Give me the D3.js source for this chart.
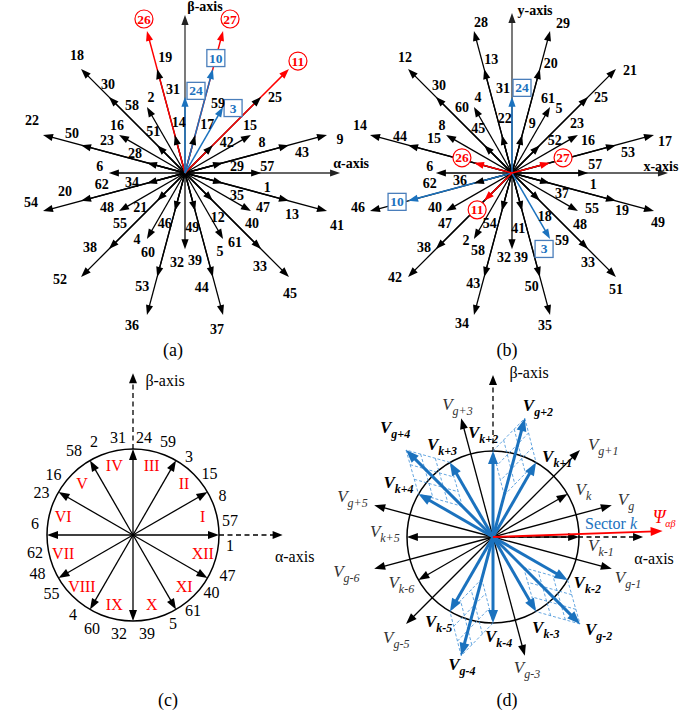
<!DOCTYPE html>
<html>
<head>
<meta charset="utf-8">
<script src="https://cdn.jsdelivr.net/npm/d3@7"></script>
<style>
  body { margin: 0; background: #fff; }
  svg { display: block; }
</style>
</head>
<body>
<div id="chart"></div>
<script>
// ---- data ----
// magnitude levels, normalised to the largest vector
const levels = { L1: 0.268, L2: 0.518, L3: 0.732, L4: 1 };

// (a) alpha-beta plane: [angle deg, label(s)]
const abL4 = [[15,'9'],[45,'11'],[75,'27'],[105,'26'],[135,'18'],[165,'22'],[195,'54'],[225,'52'],[255,'36'],[285,'37'],[315,'45'],[345,'41']];
const abL3 = [[15,'43'],[45,'25'],[75,'10'],[105,'19'],[135,'30'],[165,'50'],[195,'20'],[225,'38'],[255,'53'],[285,'44'],[315,'33'],[345,'13']];
const abL2 = [[0,'57','1'],[30,'15','8'],[60,'59','3'],[90,'31','24'],[120,'2','58'],[150,'16','23'],[180,'6','62'],[210,'48','55'],[240,'4','60'],[270,'32','39'],[300,'61','5'],[330,'47','40']];
const abL1 = [[15,'29'],[45,'42'],[75,'17'],[105,'14'],[135,'51'],[165,'28'],[195,'34'],[225,'21'],[255,'46'],[285,'49'],[315,'12'],[345,'35']];

// (b) x-y plane
const xyL4 = [[15,'17'],[45,'21'],[75,'29'],[105,'28'],[135,'12'],[165,'14'],[195,'46'],[225,'42'],[255,'34'],[285,'35'],[315,'51'],[345,'49']];
const xyL3 = [[15,'53'],[45,'25'],[75,'20'],[105,'13'],[135,'30'],[165,'44'],[195,'10'],[225,'38'],[255,'43'],[285,'50'],[315,'33'],[345,'19']];
const xyL2 = [[0,'57','1'],[30,'23','16'],[60,'61','5'],[90,'31','24'],[120,'4','60'],[150,'8','15'],[180,'6','62'],[210,'40','47'],[240,'2','58'],[270,'32','39'],[300,'3','59'],[330,'55','48']];
const xyL1 = [[15,'27'],[45,'52'],[75,'9'],[105,'22'],[135,'45'],[165,'26'],[195,'36'],[225,'11'],[255,'54'],[285,'41'],[315,'18'],[345,'37']];

const redStates = ['26','27','11'];
const blueStates = ['24','10','3'];

// (c) twelve selected vectors and sectors
const cVecs = [[0,'57','1'],[30,'15','8'],[60,'59','3'],[90,'31','24'],[120,'2','58'],[150,'16','23'],[180,'6','62'],[210,'48','55'],[240,'4','60'],[270,'32','39'],[300,'5','61'],[330,'40','47']];
const sectors = ['I','II','III','IV','V','VI','VII','VIII','IX','X','XI','XII'];

// (d) generic vectors
const dG = [[15,'g'],[45,'g+1'],[75,'g+2'],[105,'g+3'],[135,'g+4'],[165,'g+5'],[195,'g-6'],[225,'g-5'],[255,'g-4'],[285,'g-3'],[315,'g-2'],[345,'g-1']];
const dK = [[0,'k-1'],[30,'k'],[60,'k+1'],[90,'k+2'],[120,'k+3'],[150,'k+4'],[180,'k+5'],[210,'k-6'],[240,'k-5'],[270,'k-4'],[300,'k-3'],[330,'k-2']];
const dGMag = 1, dKMag = 0.7;
const dBlue = ['k+1','k+2','k+3','k+4','g+2','g+4','k-2','k-3','k-4','k-5','g-2','g-4'];
const dGroups = [['k+2','g+2','k+1'],['k+3','g+4','k+4'],['k-2','g-2','k-3'],['k-4','g-4','k-5']];
const psiAngle = 2, psiMag = 1.38;

// ---- layout (label nudges in px from the vector tip) ----
const nudgeA = {
  '9':[13,5],'11':[9,-8],'27':[7,-12],'26':[-3,-12],'18':[-4,-14],'22':[-11,-14],'54':[-12,-9],'52':[-21,3],'36':[-15,11],'37':[-6,15],'45':[1,17],'41':[10,14],
  '43':[13,7],'25':[14,1],'10':[3,-11],'19':[8,-12],'30':[-1,-12],'50':[-9,-12],'20':[-16,-9],'38':[-19,-2],'53':[-15,10],'44':[-11,11],'33':[-1,17],'13':[3,14],
  '29':[14,4],'42':[14,-3],'17':[12,-10],'14':[4,-12],'51':[-4,-14],'28':[-12,-9],'34':[-15,-1],'21':[-17,7],'46':[-10,12],'49':[-3,16],'12':[5,17],'35':[14,12],
  '57':[6,-7],'1':[6,14],'15':[-1,-9],'8':[11,8],'59':[-5,-4],'3':[10,1],'31':[-12,-7],'24':[11,-6],'2':[4,-10],'58':[-15,-2],'16':[-2,-9],'23':[-12,6],
  '6':[-9,-7],'62':[-7,11],'48':[-12,-4],'55':[1,12],'4':[-10,1],'60':[1,14],'32':[-8,13],'39':[10,11],'61':[12,4],'5':[-3,13],'47':[12,-4],'40':[1,12]
};
const nudgeB = {
  '17':[11,7],'21':[14,1],'29':[13,-8],'28':[7,-9],'12':[-3,-12],'14':[-10,-9],'46':[-12,-4],'42':[-13,1],'34':[-12,9],'35':[-5,11],'51':[0,13],'49':[4,11],
  '53':[12,7],'25':[13,1],'20':[11,-6],'13':[7,-10],'30':[3,-11],'44':[-8,-9],'10':[-11,1],'38':[-12,-2],'43':[-11,7],'50':[-8,10],'33':[0,13],'19':[6,10],
  '27':[13,-5],'52':[15,-5],'9':[10,-11],'22':[3,-16],'45':[-6,-17],'26':[-12,-5],'36':[-14,-3],'11':[-7,9],'54':[-12,12],'41':[-4,17],'18':[5,16],'37':[12,10],
  '57':[7,-9],'1':[5,11],'23':[-1,-11],'16':[10,6],'61':[-2,-9],'5':[9,1],'31':[-9,-8],'24':[10,-9],'4':[4,-10],'60':[-12,0],'8':[-4,-9],'15':[-12,4],
  '6':[-6,-7],'62':[-6,10],'40':[-11,-4],'47':[-1,12],'2':[-8,2],'58':[4,12],'32':[-8,8],'39':[9,8],'3':[-6,10],'59':[12,2],'55':[14,-3],'48':[2,13]
};
const nudgeC = {
  '57':[11,-15],'1':[11,10],'15':[2,-19],'8':[15,3],'59':[-8,-19],'3':[13,-4],'31':[-15,-12],'24':[11,-12],'2':[4,-19],'58':[-16,-10],'16':[-5,-18],'23':[-17,0],
  '6':[-12,-12],'62':[-12,17],'48':[-21,-5],'55':[-7,15],'4':[-17,5],'60':[2,19],'32':[-14,12],'39':[14,12],'5':[-3,14],'61':[17,1],'40':[4,14],'47':[20,-3]
};
const nudgeD = {
  'g':[6,0],'g+1':[8,0],'g+2':[-2,-7],'g+3':[-19,-8],'g+4':[-26,-17],'g+5':[-37,-3],'g-6':[-41,8],'g-5':[-23,19],'g-4':[-13,14],'g-3':[-11,17],'g-2':[5,11],'g-1':[3,14],
  'k-1':[9,14],'k':[8,1],'k+1':[6,0],'k+2':[-25,-13],'k+3':[-23,-12],'k+4':[-35,-6],'k+5':[-37,0],'k-6':[-30,8],'k-5':[-25,15],'k-4':[-8,19],'k-3':[-4,21],'k-2':[6,8]
};

const SERIF = '"Liberation Serif","Times New Roman",serif';
const RED = '#ff0000', BLUE = '#1b72be', BOX = '#4a7ebb';
const DEG = Math.PI / 180;

const svg = d3.select('#chart').append('svg')
  .attr('width', 699).attr('height', 713)
  .style('font-family', SERIF);

function polar(cx, cy, r, ang) {
  return [cx + r * Math.cos(ang * DEG), cy - r * Math.sin(ang * DEG)];
}

function arrowHead(g, tip, ang, len, half, color) {
  const ux = Math.cos(ang * DEG), uy = -Math.sin(ang * DEG);
  const bx = tip[0] - ux * len, by = tip[1] - uy * len;
  const px = -uy * half, py = ux * half;
  g.append('path')
    .attr('d', `M${tip[0]},${tip[1]}L${bx + px},${by + py}L${bx - px},${by - py}Z`)
    .attr('fill', color);
}

function ray(g, cx, cy, r0, r1, ang, color, width, dash) {
  const a = polar(cx, cy, r0, ang), b = polar(cx, cy, r1, ang);
  const l = g.append('line')
    .attr('x1', a[0]).attr('y1', a[1]).attr('x2', b[0]).attr('y2', b[1])
    .attr('stroke', color).attr('stroke-width', width);
  if (dash) l.attr('stroke-dasharray', dash);
}

// ---- panels (a) and (b) ----
function drawStar(cx, cy, sets, nudge, axes) {
  const g = svg.append('g');
  const r = d3.scaleLinear().domain([0, 1]).range([0, 147]);

  const vecs = [];
  sets.forEach(([lev, rows]) => rows.forEach(row => {
    const labels = row.slice(1);
    const color = labels.some(l => redStates.includes(l)) ? RED
      : labels.some(l => blueStates.includes(l)) ? BLUE : '#000';
    vecs.push({ angle: row[0], mag: levels[lev], labels, color });
  }));

  axes.forEach(ax => ray(g, cx, cy, 0, r(ax.len) - 5, ax.angle, '#333', 1.3));

  const order = vecs.slice().sort((a, b) =>
    ((a.color !== '#000') - (b.color !== '#000')) || (b.mag - a.mag));
  order.forEach(v => ray(g, cx, cy, 0, r(v.mag) - 4, v.angle, v.color, v.color === '#000' ? 1.3 : 1.5));

  axes.forEach(ax => {
    const tip = polar(cx, cy, r(ax.len), ax.angle);
    arrowHead(g, tip, ax.angle, 10, 3.6, '#222');
    g.append('text')
      .attr('x', tip[0] + ax.nudge[0]).attr('y', tip[1] + ax.nudge[1])
      .attr('text-anchor', 'middle').attr('dominant-baseline', 'central')
      .attr('font-size', 14).attr('font-weight', 'bold')
      .text(ax.text);
  });

  // marked states: circles (red) and boxes (blue)
  vecs.forEach(v => {
    const tip = polar(cx, cy, r(v.mag), v.angle);
    v.labels.forEach(l => {
      const [dx, dy] = nudge[l];
      const x = tip[0] + dx, y = tip[1] + dy;
      if (redStates.includes(l)) {
        g.append('circle').attr('cx', x).attr('cy', y).attr('r', 9)
          .attr('fill', '#fff').attr('stroke', RED).attr('stroke-width', 1.2);
      } else if (blueStates.includes(l)) {
        g.append('rect').attr('x', x - 9).attr('y', y - 8.5).attr('width', 18).attr('height', 17)
          .attr('fill', '#fff').attr('stroke', BOX).attr('stroke-width', 1.3);
      }
    });
  });

  vecs.forEach(v => {
    const tip = polar(cx, cy, r(v.mag), v.angle);
    arrowHead(g, tip, v.angle, 10, 3.6, v.color);
  });

  vecs.forEach(v => {
    const tip = polar(cx, cy, r(v.mag), v.angle);
    v.labels.forEach(l => {
      const [dx, dy] = nudge[l];
      const col = redStates.includes(l) ? RED : blueStates.includes(l) ? BLUE : '#000';
      g.append('text')
        .attr('x', tip[0] + dx).attr('y', tip[1] + dy)
        .attr('text-anchor', 'middle').attr('dominant-baseline', 'central')
        .attr('font-size', redStates.includes(l) || blueStates.includes(l) ? 13.5 : 14)
        .attr('font-weight', 'bold').attr('fill', col)
        .text(l);
    });
  });
}

drawStar(185, 173, [['L4', abL4], ['L3', abL3], ['L2', abL2], ['L1', abL1]], nudgeA, [
  { angle: 0, len: 1.055, text: 'α-axis', nudge: [11, -10] },
  { angle: 90, len: 1.075, text: 'β-axis', nudge: [20, -8] }
]);
drawStar(512, 173, [['L4', xyL4], ['L3', xyL3], ['L2', xyL2], ['L1', xyL1]], nudgeB, [
  { angle: 0, len: 1.061, text: 'x-axis', nudge: [-7, -7] },
  { angle: 90, len: 1.088, text: 'y-axis', nudge: [23, -3] }
]);

// ---- panel (c) ----
(function () {
  const cx = 133, cy = 535;
  const g = svg.append('g');
  const r = d3.scaleLinear().domain([0, 1]).range([0, 86]);

  g.append('circle').attr('cx', cx).attr('cy', cy).attr('r', r(1))
    .attr('fill', 'none').attr('stroke', '#000').attr('stroke-width', 1.5);

  const axes = [
    { angle: 0, len: 1.74, text: 'α-axis', nudge: [12, 21] },
    { angle: 90, len: 1.88, text: 'β-axis', nudge: [32, 7] }
  ];
  axes.forEach(ax => {
    ray(g, cx, cy, r(1), r(ax.len) - 6, ax.angle, '#000', 1.3, '5,3.5');
    const tip = polar(cx, cy, r(ax.len), ax.angle);
    arrowHead(g, tip, ax.angle, 10, 4, '#000');
    g.append('text').attr('x', tip[0] + ax.nudge[0]).attr('y', tip[1] + ax.nudge[1])
      .attr('text-anchor', 'middle').attr('dominant-baseline', 'central')
      .attr('font-size', 16).text(ax.text);
  });

  cVecs.forEach(([ang, ...labels]) => {
    ray(g, cx, cy, 0, r(1) - 5, ang, '#000', 1.3);
    const tip = polar(cx, cy, r(1), ang);
    arrowHead(g, tip, ang, 11, 4, '#000');
    labels.forEach(l => {
      g.append('text').attr('x', tip[0] + nudgeC[l][0]).attr('y', tip[1] + nudgeC[l][1])
        .attr('text-anchor', 'middle').attr('dominant-baseline', 'central')
        .attr('font-size', 16).text(l);
    });
  });

  sectors.forEach((s, i) => {
    const p = polar(cx, cy, r(0.84), 15 + 30 * i);
    g.append('text').attr('x', p[0]).attr('y', p[1])
      .attr('text-anchor', 'middle').attr('dominant-baseline', 'central')
      .attr('font-size', 16).attr('fill', RED).text(s);
  });
})();

// ---- panel (d) ----
(function () {
  const cx = 493, cy = 537;
  const g = svg.append('g');
  const r = d3.scaleLinear().domain([0, 1]).range([0, 123]);

  g.append('circle').attr('cx', cx).attr('cy', cy).attr('r', 86)
    .attr('fill', 'none').attr('stroke', '#000').attr('stroke-width', 1.5);

  const axes = [
    { angle: 0, len: 1.22, text: 'α-axis', nudge: [11, 21] },
    { angle: 90, len: 1.317, text: 'β-axis', nudge: [36, -3] }
  ];
  axes.forEach(ax => {
    ray(g, cx, cy, 0, r(ax.len) - 6, ax.angle, '#000', 1.3, '5,3.5');
    const tip = polar(cx, cy, r(ax.len), ax.angle);
    arrowHead(g, tip, ax.angle, 10, 4, '#000');
    g.append('text').attr('x', tip[0] + ax.nudge[0]).attr('y', tip[1] + ax.nudge[1])
      .attr('text-anchor', 'middle').attr('dominant-baseline', 'central')
      .attr('font-size', 16).text(ax.text);
  });

  const vecs = dG.map(([a, n]) => ({ angle: a, name: n, mag: dGMag }))
    .concat(dK.map(([a, n]) => ({ angle: a, name: n, mag: dKMag })));
  vecs.forEach(v => {
    v.blue = dBlue.includes(v.name);
    v.tip = polar(cx, cy, r(v.mag), v.angle);
  });
  const byName = Object.fromEntries(vecs.map(v => [v.name, v]));

  vecs.filter(v => !v.blue).forEach(v => {
    ray(g, cx, cy, 0, r(v.mag) - 5, v.angle, '#000', 1.3);
    arrowHead(g, v.tip, v.angle, 11, 4, '#000');
  });

  // dashed construction parallelograms
  const hatch = g.append('g').attr('stroke', '#3d8fd8').attr('stroke-width', 0.8)
    .attr('stroke-dasharray', '3,2').attr('fill', 'none');
  dGroups.forEach(([na, nb, nc]) => {
    const A = byName[na].tip, B = byName[nb].tip, C = byName[nc].tip;
    const D = [A[0] + C[0] - B[0], A[1] + C[1] - B[1]];
    const seg = (p, q) => hatch.append('line').attr('x1', p[0]).attr('y1', p[1]).attr('x2', q[0]).attr('y2', q[1]);
    seg(A, B); seg(B, C); seg(D, A); seg(D, C);
    [1 / 3, 2 / 3].forEach(t => {
      const P = [A[0] + t * (B[0] - A[0]), A[1] + t * (B[1] - A[1])];
      seg(P, [P[0] + C[0] - B[0], P[1] + C[1] - B[1]]);
      const Q = [C[0] + t * (B[0] - C[0]), C[1] + t * (B[1] - C[1])];
      seg(Q, [Q[0] + A[0] - B[0], Q[1] + A[1] - B[1]]);
    });
  });

  vecs.filter(v => v.blue).forEach(v => {
    ray(g, cx, cy, 0, r(v.mag) - 8, v.angle, BLUE, 3);
    arrowHead(g, v.tip, v.angle, 13, 5, BLUE);
  });

  // flux vector
  ray(g, cx, cy, 0, r(psiMag) - 8, psiAngle, RED, 1.8);
  const psiTip = polar(cx, cy, r(psiMag), psiAngle);
  arrowHead(g, psiTip, psiAngle, 12, 4.5, RED);
  const psi = g.append('text').attr('x', psiTip[0] - 10).attr('y', psiTip[1] - 8)
    .attr('fill', RED).attr('font-style', 'italic').attr('font-size', 18);
  psi.append('tspan').text('Ψ');
  psi.append('tspan').attr('font-size', 10).attr('dy', 4).text('αβ');

  const sec = g.append('text').attr('x', cx + 92).attr('y', cy - 8)
    .attr('fill', BLUE).attr('font-size', 16);
  sec.append('tspan').text('Sector ');
  sec.append('tspan').attr('font-style', 'italic').text('k');

  vecs.forEach(v => {
    const [dx, dy] = nudgeD[v.name];
    const t = g.append('text').attr('x', v.tip[0] + dx).attr('y', v.tip[1] + dy)
      .attr('font-style', 'italic')
      .attr('font-weight', v.blue ? 'bold' : 'normal')
      .attr('fill', v.blue ? '#000' : '#333');
    t.append('tspan').attr('font-size', 17).text('V');
    t.append('tspan').attr('font-size', 12).attr('dy', 5).text(v.name);
  });
})();

// ---- panel captions ----
[['(a)', 173, 350], ['(b)', 507, 350], ['(c)', 168, 700], ['(d)', 507, 700]].forEach(([s, x, y]) => {
  svg.append('text').attr('x', x).attr('y', y)
    .attr('text-anchor', 'middle').attr('dominant-baseline', 'central')
    .attr('font-size', 18).text(s);
});
</script>
</body>
</html>
